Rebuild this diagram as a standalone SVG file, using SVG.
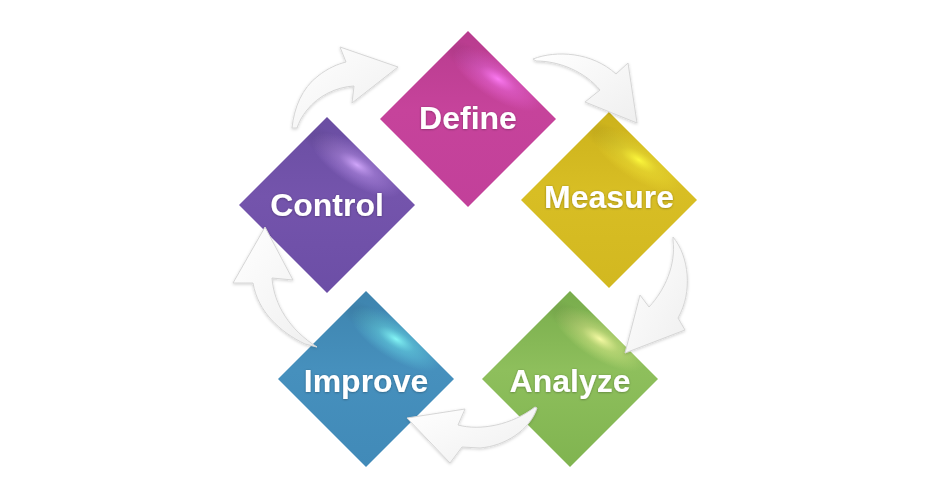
<svg xmlns="http://www.w3.org/2000/svg" width="940" height="500" viewBox="0 0 940 500">
<style>
.lbl{font-family:"Liberation Sans",Arial,sans-serif;font-weight:bold;font-size:32px;fill:#ffffff;text-anchor:middle}
.arr{fill:url(#arrFill);stroke:#d6d6d6;stroke-width:1;stroke-linejoin:round;filter:url(#arrShadow)}
</style>
<defs>
<filter id="arrShadow" x="-30%" y="-30%" width="160%" height="160%">
<feDropShadow dx="0" dy="1" stdDeviation="1.6" flood-color="#000" flood-opacity="0.18"/>
</filter>
<filter id="txtShadow" x="-10%" y="-20%" width="120%" height="140%">
<feDropShadow dx="0" dy="0.5" stdDeviation="0.8" flood-color="#000" flood-opacity="0.35"/>
</filter>
<linearGradient id="arrFill" x1="0" y1="0" x2="1" y2="1">
<stop offset="0" stop-color="#ffffff"/>
<stop offset="1" stop-color="#efefef"/>
</linearGradient>
<polygon id="dia" points="0,-88 88,0 0,88 -88,0"/>
<radialGradient id="shade" gradientUnits="userSpaceOnUse" cx="0" cy="0" r="1" gradientTransform="translate(14,-52) rotate(32) scale(55,14)">
<stop offset="0" stop-color="#000" stop-opacity="0.12"/><stop offset="1" stop-color="#000" stop-opacity="0"/>
</radialGradient>
<linearGradient id="gDefine" gradientUnits="userSpaceOnUse" x1="0" y1="-88" x2="0" y2="88">
<stop offset="0" stop-color="#b83c8e"/><stop offset="0.45" stop-color="#c6439b"/><stop offset="1" stop-color="#c2409a"/>
</linearGradient>
<linearGradient id="gControl" gradientUnits="userSpaceOnUse" x1="0" y1="-88" x2="0" y2="88">
<stop offset="0" stop-color="#6a4ea2"/><stop offset="0.45" stop-color="#7454ac"/><stop offset="1" stop-color="#6c4ea6"/>
</linearGradient>
<linearGradient id="gMeasure" gradientUnits="userSpaceOnUse" x1="0" y1="-88" x2="0" y2="88">
<stop offset="0" stop-color="#ccb21c"/><stop offset="0.45" stop-color="#d8be24"/><stop offset="1" stop-color="#d2b820"/>
</linearGradient>
<linearGradient id="gAnalyze" gradientUnits="userSpaceOnUse" x1="0" y1="-88" x2="0" y2="88">
<stop offset="0" stop-color="#78ac4c"/><stop offset="0.45" stop-color="#8ebf5c"/><stop offset="1" stop-color="#80b450"/>
</linearGradient>
<linearGradient id="gImprove" gradientUnits="userSpaceOnUse" x1="0" y1="-88" x2="0" y2="88">
<stop offset="0" stop-color="#3e84ae"/><stop offset="0.45" stop-color="#4690bd"/><stop offset="1" stop-color="#418ab8"/>
</linearGradient>
<radialGradient id="hDefine" gradientUnits="userSpaceOnUse" cx="0" cy="0" r="1" gradientTransform="translate(30,-40) rotate(32) scale(52,20)">
<stop offset="0" stop-color="#fb7af2" stop-opacity="1"/><stop offset="0.4" stop-color="#ec66da" stop-opacity="0.55"/><stop offset="1" stop-color="#ec66da" stop-opacity="0"/>
</radialGradient>
<radialGradient id="hControl" gradientUnits="userSpaceOnUse" cx="0" cy="0" r="1" gradientTransform="translate(30,-40) rotate(32) scale(52,20)">
<stop offset="0" stop-color="#d0a6fa" stop-opacity="1"/><stop offset="0.4" stop-color="#b48ce6" stop-opacity="0.55"/><stop offset="1" stop-color="#b48ce6" stop-opacity="0"/>
</radialGradient>
<radialGradient id="hMeasure" gradientUnits="userSpaceOnUse" cx="0" cy="0" r="1" gradientTransform="translate(30,-40) rotate(32) scale(52,20)">
<stop offset="0" stop-color="#fcf83c" stop-opacity="1"/><stop offset="0.4" stop-color="#f0e234" stop-opacity="0.55"/><stop offset="1" stop-color="#f0e234" stop-opacity="0"/>
</radialGradient>
<radialGradient id="hAnalyze" gradientUnits="userSpaceOnUse" cx="0" cy="0" r="1" gradientTransform="translate(30,-40) rotate(32) scale(52,20)">
<stop offset="0" stop-color="#f6faa4" stop-opacity="1"/><stop offset="0.4" stop-color="#d8ea88" stop-opacity="0.55"/><stop offset="1" stop-color="#d8ea88" stop-opacity="0"/>
</radialGradient>
<radialGradient id="hImprove" gradientUnits="userSpaceOnUse" cx="0" cy="0" r="1" gradientTransform="translate(30,-40) rotate(32) scale(52,20)">
<stop offset="0" stop-color="#84f6f6" stop-opacity="1"/><stop offset="0.4" stop-color="#66d6e6" stop-opacity="0.55"/><stop offset="1" stop-color="#66d6e6" stop-opacity="0"/>
</radialGradient>
</defs>
<rect width="940" height="500" fill="#ffffff"/>
<g id="node-define" transform="translate(468,119)">
<use href="#dia" fill="url(#gDefine)"/>
<use href="#dia" fill="url(#shade)"/>
<use href="#dia" fill="url(#hDefine)"/>
<text class="lbl" x="0" y="10" filter="url(#txtShadow)">Define</text>
</g>
<g id="node-measure" transform="translate(609,200)">
<use href="#dia" fill="url(#gMeasure)"/>
<use href="#dia" fill="url(#shade)"/>
<use href="#dia" fill="url(#hMeasure)"/>
<text class="lbl" x="0" y="8" filter="url(#txtShadow)">Measure</text>
</g>
<g id="node-analyze" transform="translate(570,379)">
<use href="#dia" fill="url(#gAnalyze)"/>
<use href="#dia" fill="url(#shade)"/>
<use href="#dia" fill="url(#hAnalyze)"/>
<text class="lbl" x="0" y="13" filter="url(#txtShadow)">Analyze</text>
</g>
<g id="node-improve" transform="translate(366,379)">
<use href="#dia" fill="url(#gImprove)"/>
<use href="#dia" fill="url(#shade)"/>
<use href="#dia" fill="url(#hImprove)"/>
<text class="lbl" x="0" y="13" filter="url(#txtShadow)">Improve</text>
</g>
<g id="node-control" transform="translate(327,205)">
<use href="#dia" fill="url(#gControl)"/>
<use href="#dia" fill="url(#shade)"/>
<use href="#dia" fill="url(#hControl)"/>
<text class="lbl" x="0" y="11" filter="url(#txtShadow)">Control</text>
</g>
<g id="connectors">
<path class="arr" d="M292,128 C294,108 302,88 318,76 C328,68 338,64 346,62 L340,47 L398,67 L352,103 L354,86 C336,87 318,96 307,110 C302,116 299,122 297,128 Z"/>
<path class="arr" d="M533,59 C556,50 592,52 616,74 L628,63 L637,123 L585,102 L600,90 C585,72 560,61 536,61 Z"/>
<path class="arr" d="M673,237 C689,256 693,292 678,318 L685,330 L625,353 L640,295 L649,307 C665,290 676,265 673,240 Z"/>
<path class="arr" d="M537,408 C530,430 505,446 480,448 L462,447 L450,463 L407,418 L465,409 L458,425 C480,431 512,425 535,407 Z"/>
<path class="arr" d="M317,347 L305,344 C280,332 258,312 253,283 L233,283 L265,227 L293,280 L272,278 C274,305 290,330 317,347 Z"/>
</g>
</svg>
